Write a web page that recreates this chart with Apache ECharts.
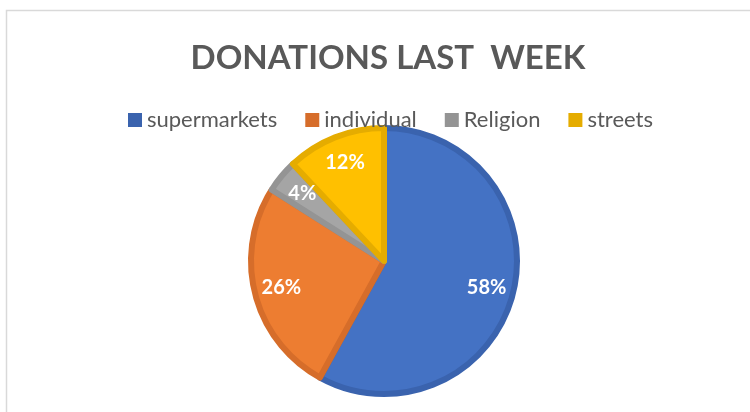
<!DOCTYPE html>
<html>
<head>
<meta charset="utf-8">
<script src="https://cdn.jsdelivr.net/npm/echarts@6/dist/echarts.min.js"></script>
<style>
  html, body { margin: 0; padding: 0; background: #fff; }
  #chart { width: 750px; height: 412px; }
</style>
</head>
<body>
<div id="chart"></div>
<script>
// data
const categories = ['supermarkets', 'individual', 'Religion', 'streets'];
const shares = [58, 26, 4, 12];
const fills = ['#4472C4', '#ED7D31', '#A5A5A5', '#FFC000'];
const edges = ['#3A63AE', '#D66D2A', '#949494', '#E5AC00'];

const myChart = echarts.init(document.getElementById('chart'));

const sliceData = categories.map((name, i) => ({
  name: name,
  value: shares[i],
  itemStyle: { color: fills[i], borderColor: edges[i], borderWidth: 6 }
}));

const labelData = categories.map((name, i) => ({ name: name, value: shares[i] }));

const legendData = categories.map((name, i) => ({
  name: name,
  itemStyle: { color: edges[i], borderWidth: 0 }
}));

const option = {
  backgroundColor: '#fff',
  animation: false,
  graphic: [{
    type: 'rect',
    shape: { x: 6.5, y: 10.5, width: 800, height: 500 },
    style: { fill: 'none', stroke: '#d9d9d9', lineWidth: 1.5 },
    silent: true
  }],
  title: {
    text: 'DONATIONS LAST  WEEK',
    left: 383,
    textAlign: 'center',
    top: 37,
    textStyle: {
      fontFamily: 'Lato',
      fontWeight: 'bold',
      fontSize: 33,
      color: '#595959'
    }
  },
  legend: {
    top: 104,
    left: 123,
    itemWidth: 14,
    itemHeight: 14,
    itemGap: 28,
    icon: 'rect',
    textStyle: { fontFamily: 'Lato', fontSize: 22, color: '#595959' },
    data: legendData
  },
  series: [
    {
      type: 'pie',
      center: [384, 261],
      radius: 133,
      startAngle: 90,
      data: sliceData,
      label: { show: false },
      labelLine: { show: false }
    },
    {
      type: 'pie',
      center: [384, 261],
      radius: [70, 136],
      startAngle: 90,
      silent: true,
      data: labelData,
      itemStyle: { color: 'rgba(0,0,0,0)', borderWidth: 0 },
      label: {
        show: true,
        position: 'inside',
        formatter: '{c}%',
        fontFamily: 'Lato',
        fontWeight: 'bold',
        fontSize: 20,
        color: '#fff'
      },
      labelLine: { show: false }
    }
  ]
};

myChart.setOption(option);
</script>
</body>
</html>
